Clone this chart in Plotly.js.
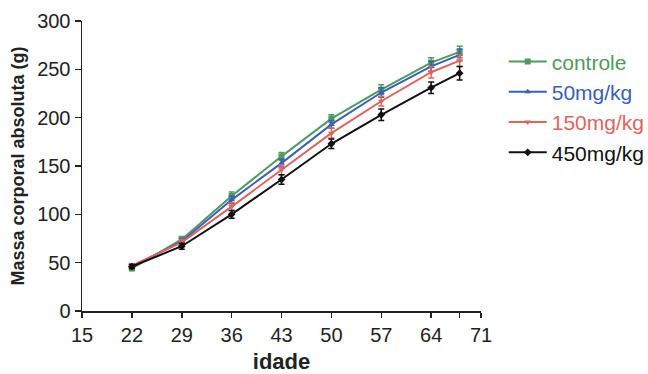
<!DOCTYPE html>
<html>
<head>
<meta charset="utf-8">
<script src="https://cdn.plot.ly/plotly-3.0.1.min.js"></script>
<style>html,body{margin:0;padding:0;background:#fff;}#chart{width:648px;height:374px;}</style>
</head>
<body>
<div id="chart"></div>
<script>
const idade = [22, 29, 36, 43, 50, 57, 64, 68];
const seriesNames = ["controle", "50mg/kg", "150mg/kg", "450mg/kg"];
const controle = [44, 74, 119, 160, 199, 229, 257, 268];
const mg50 = [46, 72, 115, 153, 193, 226, 253, 265];
const mg150 = [47, 71, 108, 146, 184, 217, 247, 259];
const mg450 = [46, 67, 100, 136, 173, 203, 231, 246];
const errControle = [2, 3, 4, 4, 4, 5, 5, 6];
const err50 = [2, 3, 4, 4, 4, 5, 5, 6];
const err150 = [2, 3, 4, 5, 5, 5, 6, 6];
const err450 = [2, 3, 4, 5, 5, 6, 6, 7];
const xTickVals = [15, 22, 29, 36, 43, 50, 57, 64, 68, 71];
const xTickText = ["15", "22", "29", "36", "43", "50", "57", "64", "", "71"];

const colors = ["#4f9a5e", "#3b5fb5", "#e0645e", "#111111"];
const symbols = ["square", "triangle-up", "triangle-down", "diamond"];
const ys = [controle, mg50, mg150, mg450];
const errs = [errControle, err50, err150, err450];

const traces = ys.map((y, i) => ({
  x: idade,
  y: y,
  type: "scatter",
  mode: "lines+markers",
  name: '<span style="color:' + colors[i] + '">' + seriesNames[i] + '</span>',
  line: {color: colors[i], width: 2},
  marker: {color: colors[i], symbol: symbols[i], size: 6},
  error_y: {type: "data", array: errs[i], visible: true, color: colors[i], thickness: 1.5, width: 3}
}));

const layout = {
  width: 648,
  height: 374,
  margin: {l: 82, r: 167, t: 21, b: 63, autoexpand: false},
  paper_bgcolor: "#fff",
  plot_bgcolor: "#fff",
  font: {family: "Liberation Sans, Arial, sans-serif", color: "#222", size: 20},
  showlegend: true,
  legend: {
    x: 1.057, xanchor: "left", y: 0.93, yanchor: "top",
    font: {size: 21},
    itemwidth: 38,
    tracegroupgap: 0,
    bgcolor: "rgba(0,0,0,0)"
  },
  xaxis: {
    range: [15, 71],
    tickvals: xTickVals,
    ticktext: xTickText,
    showgrid: false,
    zeroline: false,
    showline: true,
    linecolor: "#222",
    linewidth: 1.5,
    ticks: "outside",
    ticklen: 5,
    tickwidth: 1.5,
    tickcolor: "#222",
    tickfont: {size: 20},
    title: {text: "<b>idade</b>", font: {size: 22}, standoff: 10}
  },
  yaxis: {
    range: [0, 300],
    tickvals: [0, 50, 100, 150, 200, 250, 300],
    showgrid: false,
    zeroline: false,
    showline: true,
    linecolor: "#222",
    linewidth: 1.5,
    ticks: "outside",
    ticklen: 6,
    tickwidth: 1.5,
    tickcolor: "#222",
    tickfont: {size: 20},
    title: {text: "<b>Massa corporal absoluta (g)</b>", font: {size: 18}, standoff: 8}
  }
};

Plotly.newPlot("chart", traces, layout, {displayModeBar: false, staticPlot: true});
</script>
</body>
</html>
